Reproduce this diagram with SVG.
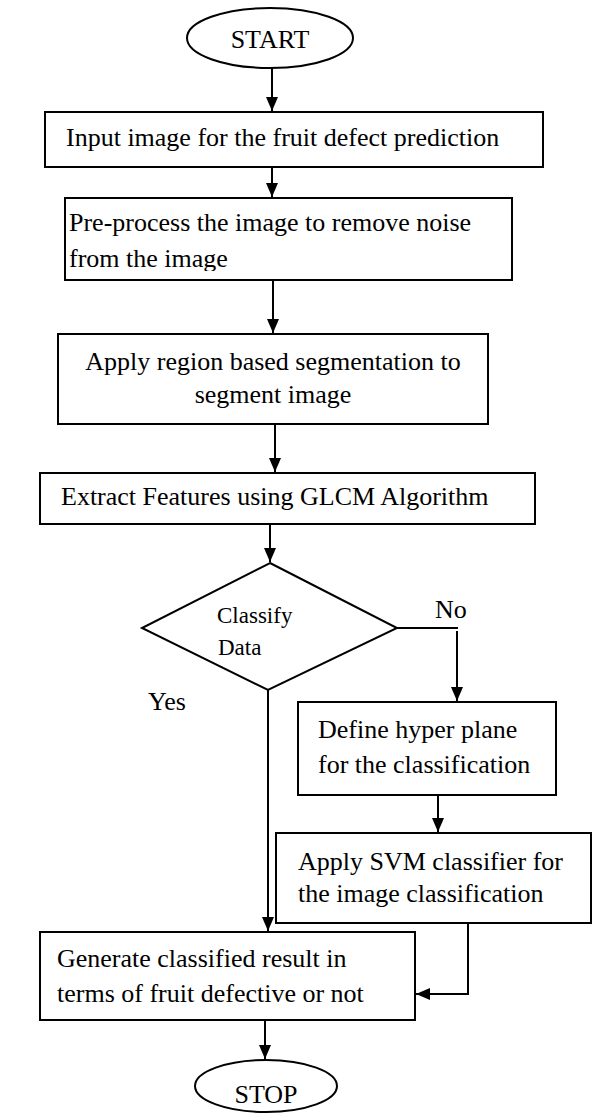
<svg xmlns="http://www.w3.org/2000/svg" width="593" height="1114" viewBox="0 0 593 1114">
<style>
.box{fill:#fff;stroke:#000;stroke-width:2}
.t{font-family:"Liberation Serif","Times New Roman",serif;font-size:26px;fill:#000}
.s{font-size:23px}
.c{stroke:#000;stroke-width:2;fill:none}
</style>
<defs>
<marker id="ah" viewBox="0 0 14 12" refX="14" refY="6" markerWidth="14" markerHeight="12" orient="auto" markerUnits="userSpaceOnUse">
<path d="M0,0 L14,6 L0,12 z" fill="#000"/>
</marker>
<clipPath id="clipPre"><rect x="60" y="198" width="460" height="73"/></clipPath>
<clipPath id="clipData"><rect x="140" y="560" width="260" height="96"/></clipPath>
</defs>
<g id="connectors">
<line class="c" x1="272" y1="68" x2="272" y2="111" marker-end="url(#ah)"/>
<line class="c" x1="272" y1="167" x2="272" y2="197" marker-end="url(#ah)"/>
<line class="c" x1="273" y1="280" x2="273" y2="333" marker-end="url(#ah)"/>
<line class="c" x1="275" y1="424" x2="275" y2="472" marker-end="url(#ah)"/>
<line class="c" x1="270" y1="524" x2="270" y2="562" marker-end="url(#ah)"/>
<polyline class="c" points="397,628 458,628"/>
<line class="c" x1="457" y1="631" x2="457" y2="701" marker-end="url(#ah)"/>
<line class="c" x1="268" y1="690" x2="268" y2="931" marker-end="url(#ah)"/>
<line class="c" x1="438" y1="795" x2="438" y2="832" marker-end="url(#ah)"/>
<polyline class="c" points="468,923 468,994 416,994" marker-end="url(#ah)"/>
<line class="c" x1="265" y1="1020" x2="265" y2="1059" marker-end="url(#ah)"/>
</g>
<g id="start">
<ellipse class="box" cx="270" cy="38" rx="83" ry="30"/>
<text class="t" x="270" y="48" text-anchor="middle">START</text>
</g>
<g id="input">
<rect class="box" x="45" y="112" width="498" height="55"/>
<text class="t" x="66" y="146">Input image for the fruit defect prediction</text>
</g>
<g id="preprocess">
<rect class="box" x="65" y="198" width="447" height="82"/>
<g clip-path="url(#clipPre)">
<text class="t" x="69" y="231">Pre-process the image to remove noise</text>
<text class="t" x="69" y="267">from the image</text>
</g>
</g>
<g id="segment">
<rect class="box" x="58" y="334" width="430" height="90"/>
<text class="t" x="273" y="370" text-anchor="middle">Apply region based segmentation to</text>
<text class="t" x="273" y="403" text-anchor="middle">segment image</text>
</g>
<g id="extract">
<rect class="box" x="40" y="473" width="495" height="51"/>
<text class="t" x="61" y="505">Extract Features using GLCM Algorithm</text>
</g>
<g id="decision">
<polygon class="box" points="270,563 397,628 268,690 142,628"/>
<text class="t s" x="217" y="623">Classify</text>
<text class="t s" x="218" y="655" clip-path="url(#clipData)">Data</text>
</g>
<g id="labels">
<text class="t" x="435" y="618">No</text>
<text class="t" x="148" y="710">Yes</text>
</g>
<g id="hyperplane">
<rect class="box" x="298" y="702" width="258" height="93"/>
<text class="t" x="318" y="738">Define hyper plane</text>
<text class="t" x="318" y="773">for the classification</text>
</g>
<g id="svm">
<rect class="box" x="276" y="833" width="315" height="90"/>
<text class="t" x="298" y="870">Apply SVM classifier for</text>
<text class="t" x="298" y="902">the image classification</text>
</g>
<g id="generate">
<rect class="box" x="40" y="932" width="375" height="88"/>
<text class="t" x="57" y="967">Generate classified result in</text>
<text class="t" x="57" y="1002">terms of fruit defective or not</text>
</g>
<g id="stop">
<ellipse class="box" cx="266" cy="1086" rx="71" ry="26"/>
<text class="t" x="266" y="1103" text-anchor="middle">STOP</text>
</g>
</svg>
